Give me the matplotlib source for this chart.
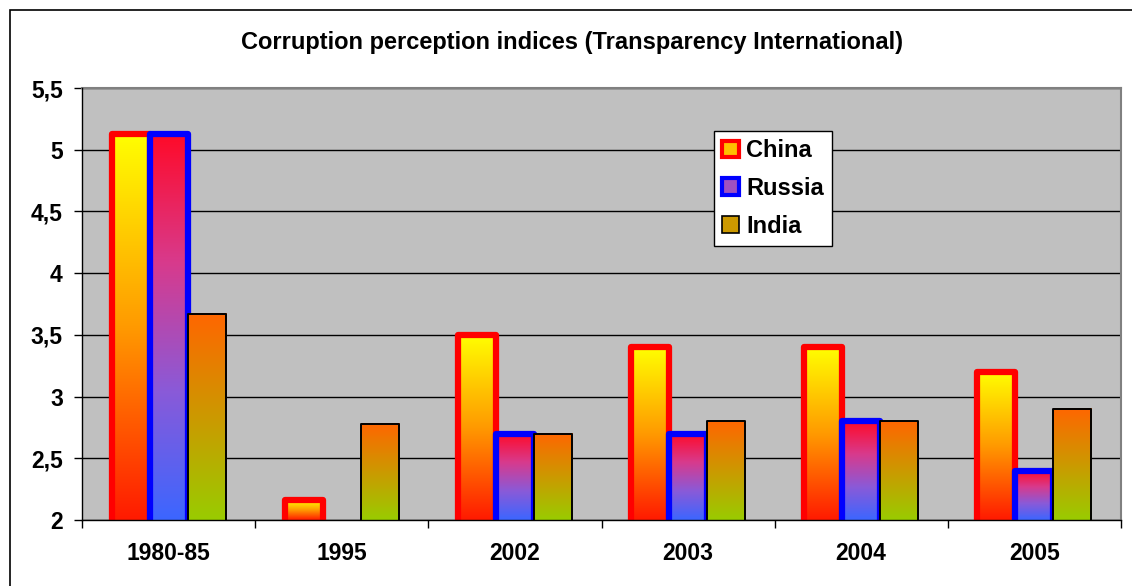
import matplotlib
matplotlib.use("Agg")
import matplotlib.pyplot as plt
import numpy as np
from matplotlib.colors import LinearSegmentedColormap
from matplotlib.patches import Patch, Rectangle

plt.rcParams['font.family'] = ['Liberation Sans', 'DejaVu Sans']
plt.rcParams['font.weight'] = 'bold'

categories = ['1980-85', '1995', '2002', '2003', '2004', '2005']
china = [5.13, 2.16, 3.5, 3.4, 3.4, 3.2]
russia = [5.13, np.nan, 2.7, 2.7, 2.8, 2.4]
india = [3.67, 2.78, 2.7, 2.8, 2.8, 2.9]
yticks = [2, 2.5, 3, 3.5, 4, 4.5, 5, 5.5]
ytick_labels = ['2', '2,5', '3', '3,5', '4', '4,5', '5', '5,5']

# (name, values, gradient top->bottom, edge colour, edge width)
series = [
    ('China', china, ['#FFFF00', '#FF9A00', '#FF1A00'], '#FF0000', 4.5),
    ('Russia', russia, ['#FF0A28', '#D83A8C', '#8A5AD8', '#3C66FF'], '#0000FF', 4.5),
    ('India', india, ['#FF6600', '#CC9900', '#99CC00'], 'black', 1.4),
]

fig = plt.figure(figsize=(11.32, 5.86), dpi=100)
ax = fig.add_axes([82.3 / 1132, 66 / 586, (1120.7 - 82.3) / 1132, 432 / 586])
ax.set_facecolor('#C0C0C0')

x = np.arange(len(categories))
w = 0.22
grad = np.linspace(0, 1, 256).reshape(-1, 1)

for k, (name, vals, cols, ec, lw) in enumerate(series):
    cmap = LinearSegmentedColormap.from_list(name, cols)
    bars = ax.bar(x + (k - 1) * w, vals, w, bottom=0, facecolor='none',
                  edgecolor=ec, linewidth=lw, joinstyle='round', zorder=3 + k)
    for b, v in zip(bars, vals):
        if np.isnan(v):
            continue
        x0, y0 = b.get_x(), 2
        ax.imshow(grad, cmap=cmap, aspect='auto', origin='upper',
                  extent=(x0, x0 + b.get_width(), y0, v), zorder=2.5 + k)

ax.set_xlim(-0.5, len(categories) - 0.5)
ax.set_ylim(2, 5.5)

ax.set_yticks(yticks)
ax.set_yticklabels(ytick_labels)
ax.set_xticks(x)
ax.set_xticklabels(categories)
ax.set_xticks(np.arange(len(categories) + 1) - 0.5, minor=True)
ax.tick_params(axis='x', which='major', length=0, pad=16, labelsize=16.5)
ax.tick_params(axis='x', which='minor', length=6, width=1, direction='out')
ax.tick_params(axis='y', length=6, width=1, direction='out', pad=8, labelsize=16.5)

ax.yaxis.grid(True, color='black', linewidth=1)
ax.set_axisbelow(True)
for s in ['top', 'right']:
    ax.spines[s].set_color('#808080')
    ax.spines[s].set_linewidth(1.5)
for s in ['left', 'bottom']:
    ax.spines[s].set_color('black')
    ax.spines[s].set_linewidth(1)
    ax.spines[s].set_zorder(10)

fig.text(572 / 1132, 1 - 42 / 586, 'Corruption perception indices (Transparency International)',
         ha='center', va='center', fontsize=17, fontweight='bold')

handles = [
    Patch(facecolor='#FFC000', edgecolor='#FF0000', linewidth=3),
    Patch(facecolor='#A050C0', edgecolor='#0000FF', linewidth=3),
    Patch(facecolor='#CC9900', edgecolor='black', linewidth=1.2),
]
leg = fig.legend(handles, [s[0] for s in series], loc='upper left',
                 bbox_to_anchor=(714 / 1132, 1 - 131 / 586),
                 prop={'size': 17, 'weight': 'bold'}, fancybox=False,
                 edgecolor='black', framealpha=1, handlelength=0.7, handleheight=0.7,
                 handletextpad=0.3, labelspacing=0.62, borderpad=0.35, borderaxespad=0)
leg.get_frame().set_linewidth(1)

fig.patches.append(Rectangle((10 / 1132, -0.1), 1.2, 1 - 10 / 586 + 0.1,
                             transform=fig.transFigure, fill=False,
                             edgecolor='black', linewidth=1.2))

fig.savefig('out.png', dpi=100)
